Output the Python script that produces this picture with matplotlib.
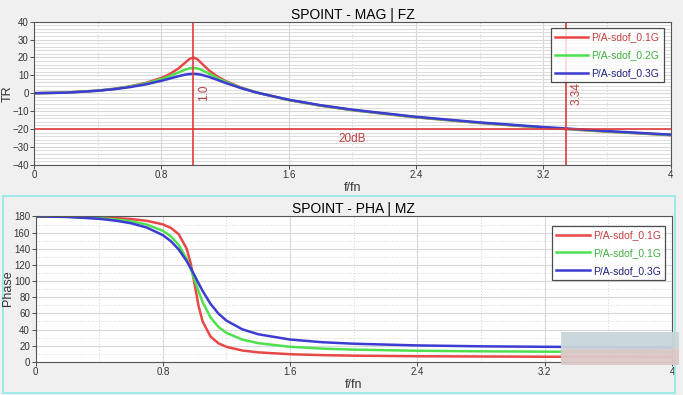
import numpy as np
import matplotlib.pyplot as plt
from matplotlib.patches import Rectangle

plt.rcParams['font.family'] = ['Liberation Sans Narrow', 'Liberation Sans', 'DejaVu Sans']

# f/fn points
r = [0, 0.2, 0.4, 0.5, 0.6, 0.7, 0.8, 0.85, 0.9, 0.95, 0.975, 1.0, 1.025, 1.05,
     1.1, 1.15, 1.2, 1.3, 1.4, 1.6, 1.8, 2.0, 2.4, 2.8, 3.2, 3.6, 4.0]

# magnitude (dB)
tr_01 = [0, 0.35, 1.50, 2.47, 3.81, 5.73, 8.59, 10.65, 13.41, 17.14, 19.10, 20.04, 19.05, 16.92,
         12.71, 9.47, 6.96, 3.18, 0.35, -3.84, -6.97, -9.50, -13.51, -16.66, -19.27, -21.51, -23.48]
tr_02 = [0, 0.34, 1.45, 2.37, 3.64, 5.40, 7.88, 9.49, 11.36, 13.22, 13.89, 14.15, 13.88, 13.14,
         10.92, 8.59, 6.49, 3.04, 0.34, -3.76, -6.87, -9.39, -13.39, -16.53, -19.15, -21.39, -23.35]
tr_03 = [0, 0.32, 1.37, 2.23, 3.39, 4.93, 6.96, 8.15, 9.37, 10.40, 10.72, 10.83, 10.71, 10.35,
         9.10, 7.50, 5.85, 2.85, 0.32, -3.65, -6.71, -9.21, -13.20, -16.34, -18.94, -21.18, -23.15]

# phase (deg)
ph_01 = [180, 179.8, 178.9, 178.1, 176.8, 174.6, 170.2, 165.9, 158.0, 140.0, 122.0, 95.7, 68.9, 50.0,
         31.2, 22.9, 18.5, 14.0, 11.7, 9.4, 8.3, 7.6, 6.9, 6.6, 6.3, 6.2, 6.1]
ph_02 = [180, 179.5, 177.9, 176.4, 174.0, 169.9, 162.3, 155.5, 144.8, 127.3, 115.2, 101.3, 87.1, 74.2,
         54.9, 43.1, 35.8, 27.5, 23.1, 18.6, 16.4, 15.1, 13.7, 13.0, 12.6, 12.3, 12.1]
ph_03 = [180, 179.4, 177.1, 174.9, 171.6, 166.2, 156.9, 149.5, 139.1, 124.7, 116.1, 106.7, 97.1, 87.8,
         71.7, 59.6, 51.0, 40.2, 34.1, 27.6, 24.3, 22.4, 20.3, 19.2, 18.6, 18.1, 17.9]

c_red = '#e84848'
c_green = '#4ee04e'
c_blue = '#3c3cd2'
c_line = '#e03a3a'

fig = plt.figure(figsize=(6.83, 3.95), dpi=100)
fig.patch.set_facecolor('#f0f0f0')

# cyan frame round the lower panel
fig.add_artist(Rectangle((0.004, 0.006), 0.984, 0.498, transform=fig.transFigure,
                         fill=False, edgecolor='#8ee8e8', lw=1.2))


def style_axes(ax, ymin, ymax, ymaj, ymin_step, minor_style):
    ax.set_xlim(0, 4)
    ax.set_ylim(ymin, ymax)
    ax.set_xticks([0, 0.8, 1.6, 2.4, 3.2, 4])
    ax.set_xticklabels(['0', '0.8', '1.6', '2.4', '3.2', '4'])
    ax.set_yticks(np.arange(ymin, ymax + 1, ymaj))
    ax.set_yticks(np.arange(ymin, ymax + 1, ymin_step), minor=True)
    ax.set_xticks([0.4, 1.2, 2.0, 2.8, 3.6], minor=True)
    ax.grid(True, which='major', color='#d8d8d8', lw=0.8)
    ax.grid(True, which='minor', axis='x', color='#d8d8d8', lw=0.8, ls=':')
    ax.grid(True, which='minor', axis='y', color='#dcdcdc', lw=0.7, ls=minor_style)
    ax.tick_params(labelsize=7, colors='#333333', length=3, width=0.6, pad=1)
    ax.tick_params(which='minor', length=0)
    for s in ax.spines.values():
        s.set_color('#555555')
        s.set_linewidth(0.8)
    ax.set_xlabel('f/fn', fontsize=9, color='#333333', labelpad=1)


def add_legend(ax, anchor_y):
    leg = ax.legend(loc='upper right', fontsize=7.5, frameon=True, fancybox=False,
                    edgecolor='#222222', handlelength=3.2, handletextpad=0.3,
                    borderpad=0.4, labelspacing=0.75, bbox_to_anchor=(0.997, anchor_y))
    leg.get_frame().set_linewidth(0.9)
    for t, c in zip(leg.get_texts(), ['#c04040', '#40b040', '#202080']):
        t.set_color(c)


# ---- top: magnitude ----
ax1 = fig.add_axes([0.050, 0.583, 0.932, 0.362])
style_axes(ax1, -40, 40, 10, 2, '-')
ax1.plot(r, tr_01, color=c_red, lw=1.8, label='P/A-sdof_0.1G')
ax1.plot(r, tr_02, color=c_green, lw=1.8, label='P/A-sdof_0.2G')
ax1.plot(r, tr_03, color=c_blue, lw=1.8, label='P/A-sdof_0.3G')
ax1.axvline(1.0, color=c_line, lw=1.2)
ax1.axvline(3.34, color=c_line, lw=1.2)
ax1.axhline(-20, color=c_line, lw=1.2)
ax1.text(1.03, 0.5, '1.0', rotation=90, color='#c04040', fontsize=8.5, ha='left', va='center')
ax1.text(3.37, 0, '3.34', rotation=90, color='#c04040', fontsize=8.5, ha='left', va='center')
ax1.text(2.0, -22.5, '20dB', color='#c04040', fontsize=8.5, ha='center', va='top')
fig.text(8 / 683, 1 - 94 / 395, 'TR', rotation=90, fontsize=9, color='#333333',
         ha='center', va='center')
ax1.set_title('SPOINT - MAG | FZ', fontsize=10, pad=2)
add_legend(ax1, 0.99)

# ---- bottom: phase ----
ax2 = fig.add_axes([0.052, 0.084, 0.932, 0.368])
style_axes(ax2, 0, 180, 20, 10, ':')
ax2.plot(r, ph_01, color=c_red, lw=1.8, label='P/A-sdof_0.1G')
ax2.plot(r, ph_02, color=c_green, lw=1.8, label='P/A-sdof_0.1G')
ax2.plot(r, ph_03, color=c_blue, lw=1.8, label='P/A-sdof_0.3G')
fig.text(8 / 683, 1 - 288 / 395, 'Phase', rotation=90, fontsize=9, color='#333333',
         ha='center', va='center')
ax2.set_title('SPOINT - PHA | MZ', fontsize=10, pad=2)
add_legend(ax2, 0.97)

# blurred watermark patch at lower right
fig.add_artist(Rectangle((0.822, 0.115), 0.172, 0.045, transform=fig.transFigure,
                         facecolor='#c8d6da', edgecolor='none', alpha=0.95))
fig.add_artist(Rectangle((0.822, 0.075), 0.172, 0.042, transform=fig.transFigure,
                         facecolor='#dcc8c8', edgecolor='none', alpha=0.95))

fig.savefig('out.png', dpi=100, facecolor=fig.get_facecolor())
